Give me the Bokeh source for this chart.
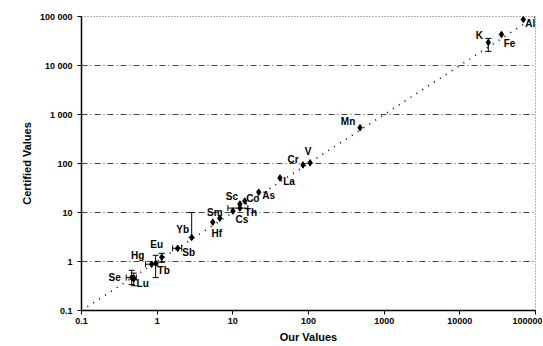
from bokeh.plotting import figure
from bokeh.models import (ColumnDataSource, Range1d, FixedTicker, Whisker, TeeHead)
from bokeh.core.properties import value
from bokeh.embed import file_html
from bokeh.resources import INLINE

# ---- data ----
elements = ["Se", "Lu", "Hg", "Tb", "Eu", "Sb", "Yb", "Hf", "Sm", "Cs", "Th",
            "Sc", "Co", "As", "La", "Cr", "V", "Mn", "K", "Fe", "Al"]
our_vals = [0.46, 0.49, 0.845, 0.955, 1.15, 1.87, 2.86, 5.43, 6.73, 10.0, 12.4,
            12.4, 14.4, 22.0, 42.0, 84.5, 105.0, 480.0, 23800.0, 35500.0, 69000.0]
cert_vals = [0.47, 0.44, 0.88, 0.92, 1.22, 1.86, 3.1, 6.35, 7.67, 10.7, 12.3,
             14.9, 17.1, 26.0, 50.7, 93.5, 103.0, 537.0, 29500.0, 43000.0, 87000.0]

# uncertainty ranges (None = no bar drawn)
cert_lo = [0.34, 0.32, None, 0.47, 0.96, None, 3.1, None, None, None, None,
           None, None, None, None, None, None, None, 19400.0, None, None]
cert_hi = [0.66, 0.58, None, 1.34, 1.47, None, 10.0, None, None, None, None,
           None, None, None, None, None, None, None, 35700.0, None, None]
our_lo = [0.39, None, 0.70, None, None, 1.60, None, None, None, None, 8.6,
          None, None, None, None, None, None, None, None, None, None]
our_hi = [0.53, None, 1.02, None, None, 2.11, None, None, None, None, 15.8,
          None, None, None, None, None, None, None, None, None, None]

decades = [0.1, 1, 10, 100, 1000, 10000, 100000]
x_tick_labels = ["0.1", "1", "10", "100", "1000", "10000", "100000"]
y_tick_labels = ["0.1", "1", "10", "100", "1 000", "10 000", "100 000"]
identity_line = [0.1, 100000]

# label placement (pixels relative to the point; screen y down)
label_dx = [-17, 9, -14, 8, -5, 11, -9, 4, -5, 9, 11, -8, 8, 10, 9, -10, -2, -12, -9, 8, 7]
label_dy = [0, 5, -9, 7, -13, 4, -8, 11, -6, 8, 4, -8, -3, 3, 4, -5, -11, -6, -7, 9, 4]

FONT = "Liberation Sans"

p = figure(width=542, height=345, x_axis_type="log", y_axis_type="log",
           x_range=Range1d(0.1, 100000), y_range=Range1d(0.1, 100000),
           output_backend="svg", toolbar_location=None,
           min_border_left=81, min_border_right=7, min_border_top=16, min_border_bottom=35)

p.background_fill_color = "white"
p.border_fill_color = "white"
p.outline_line_color = "#666666"
p.outline_line_dash = "1 2"

p.xgrid.visible = False
p.ygrid.ticker = FixedTicker(ticks=decades[1:])
p.ygrid.grid_line_color = "#444444"
p.ygrid.grid_line_dash = "6 3 1 3"
p.ygrid.grid_line_width = 1

for ax, labels in ((p.xaxis[0], x_tick_labels), (p.yaxis[0], y_tick_labels)):
    ax.ticker = FixedTicker(ticks=decades)
    ax.major_label_overrides = {d: l for d, l in zip(decades, labels)}
    ax.minor_tick_line_color = None
    ax.major_tick_out = 4
    ax.major_tick_in = 0
    ax.axis_line_color = "black"
    ax.axis_line_width = 1.5
    ax.major_tick_line_color = "black"
    ax.major_label_text_font = FONT
    ax.major_label_text_font_style = "bold"
    ax.major_label_text_font_size = "9px"
    ax.major_label_text_color = "black"
    ax.axis_label_text_font = FONT
    ax.axis_label_text_font_style = "bold"
    ax.axis_label_text_font_size = "11px"
    ax.axis_label_text_color = "black"

p.xaxis.axis_label = "Our Values"
p.yaxis.axis_label = "Certified Values"
p.xaxis.major_label_standoff = 3
p.xaxis.axis_label_standoff = 4
p.yaxis.major_label_standoff = 5
p.yaxis.axis_label_standoff = 4

# 1:1 line
p.line(identity_line, identity_line, line_color="black", line_width=1.6, line_dash="1 6")

# error bars
vi = [i for i in range(len(elements)) if cert_lo[i] is not None]
vsrc = ColumnDataSource(dict(x=[our_vals[i] for i in vi],
                             lo=[cert_lo[i] for i in vi],
                             hi=[cert_hi[i] for i in vi]))
p.add_layout(Whisker(source=vsrc, base="x", lower="lo", upper="hi", dimension="height",
                     line_color="black", line_width=1,
                     upper_head=TeeHead(size=6, line_color="black", line_width=1),
                     lower_head=TeeHead(size=6, line_color="black", line_width=1)))
hi_ = [i for i in range(len(elements)) if our_lo[i] is not None]
hsrc = ColumnDataSource(dict(y=[cert_vals[i] for i in hi_],
                             lo=[our_lo[i] for i in hi_],
                             hi=[our_hi[i] for i in hi_]))
p.add_layout(Whisker(source=hsrc, base="y", lower="lo", upper="hi", dimension="width",
                     line_color="black", line_width=1,
                     upper_head=TeeHead(size=6, line_color="black", line_width=1),
                     lower_head=TeeHead(size=6, line_color="black", line_width=1)))

src = ColumnDataSource(dict(x=our_vals, y=cert_vals, name=elements, dx=label_dx, dy=label_dy))
p.scatter("x", "y", source=src, marker="diamond", size=6.5, fill_color="black", line_color="black")
p.text("x", "y", text="name", source=src, x_offset="dx", y_offset="dy",
       text_align="center", text_baseline="middle", text_font=value(FONT),
       text_font_style="bold", text_font_size="10px", text_color="black")

open("out.html", "w").write(file_html(p, INLINE))
